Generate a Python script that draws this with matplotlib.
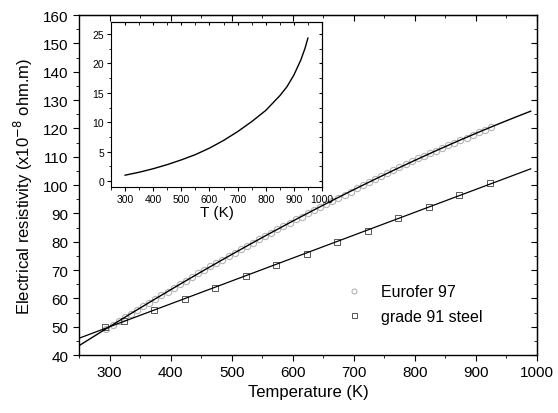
import matplotlib
matplotlib.use("Agg")
import matplotlib.pyplot as plt
import numpy as np
from matplotlib.ticker import MultipleLocator

plt.rcParams['font.family'] = ['Liberation Sans', 'DejaVu Sans']

# Eurofer 97 measured resistivity (x1e-8 ohm.m)
euro_T = [295, 305, 315, 325, 335, 345, 355, 365, 375, 385, 395, 405, 415, 425,
          435, 445, 455, 465, 475, 485, 495, 505, 515, 525, 535, 545, 555, 565,
          575, 585, 595, 605, 615, 625, 635, 645, 655, 665, 675, 685, 695, 705,
          715, 725, 735, 745, 755, 765, 775, 785, 795, 805, 815, 825, 835, 845,
          855, 865, 875, 885, 895, 905, 915, 925]
euro_R = [49.3, 50.7, 52.0, 53.3, 54.6, 55.9, 57.2, 58.5, 59.8, 61.1, 62.4, 63.7,
          65.0, 66.3, 67.6, 68.9, 70.1, 71.3, 72.5, 73.7, 74.9, 76.1, 77.3, 78.5,
          79.7, 80.9, 82.0, 83.2, 84.4, 85.5, 86.7, 87.9, 88.9, 90.0, 91.1, 92.2,
          93.3, 94.4, 95.5, 96.6, 97.7, 98.8, 99.9, 101.0, 102.1, 103.2, 104.3,
          105.4, 106.5, 107.5, 108.5, 109.4, 110.3, 111.2, 112.1, 113.1, 114.0,
          114.9, 115.9, 116.8, 117.7, 118.6, 119.6, 120.5]

# grade 91 steel
g91_T = [293, 323, 373, 423, 473, 523, 573, 623, 673, 723, 773, 823, 873, 923]
g91_R = [49.8, 52.1, 56.0, 59.8, 63.7, 67.8, 71.8, 75.8, 79.9, 83.9, 88.3, 92.4,
         96.4, 100.7]

# inset curve
ins_T = [300, 350, 400, 450, 500, 550, 600, 650, 700, 750, 800, 850, 875, 900,
         925, 940, 950]
ins_R = [1.0, 1.5, 2.1, 2.8, 3.6, 4.5, 5.6, 6.9, 8.4, 10.1, 12.0, 14.5, 16.0,
         18.0, 20.6, 22.6, 24.3]

fig = plt.figure(figsize=(5.58, 4.14), dpi=100)
ax = fig.add_axes([0.1416, 0.140, 0.8204, 0.821])

# fitted lines
Tfit = np.linspace(250, 990, 200)
pe = np.polyfit(euro_T, euro_R, 3)
pg = np.polyfit(g91_T, g91_R, 1)

ax.plot(euro_T, euro_R, 'o', ms=4.5, mfc='none', mec='#b4b4b4', mew=0.8,
        label='Eurofer 97', zorder=2)
ax.plot(g91_T, g91_R, 's', ms=4.5, mfc='none', mec='#555555', mew=0.7,
        label='grade 91 steel', zorder=2)
ax.plot(Tfit, np.polyval(pe, Tfit), color='black', lw=1.0, zorder=3)
ax.plot(Tfit, np.polyval(pg, Tfit), color='black', lw=0.9, zorder=3)

ax.set_xlim(250, 1000)
ax.set_ylim(40, 160)
ax.xaxis.set_major_locator(MultipleLocator(100))
ax.xaxis.set_minor_locator(MultipleLocator(50))
ax.yaxis.set_major_locator(MultipleLocator(10))
ax.yaxis.set_minor_locator(MultipleLocator(5))
ax.tick_params(which='both', direction='out', labelsize=11)
ax.tick_params(which='major', length=4)
ax.tick_params(which='minor', length=2.5)
for s in ax.spines.values():
    s.set_linewidth(1.0)

top = ax.secondary_xaxis('top')
top.xaxis.set_major_locator(MultipleLocator(100))
top.xaxis.set_minor_locator(MultipleLocator(50))
top.tick_params(which='both', direction='in', labeltop=False)
top.tick_params(which='major', length=4)
top.tick_params(which='minor', length=2.5)
right = ax.secondary_yaxis('right')
right.yaxis.set_major_locator(MultipleLocator(10))
right.yaxis.set_minor_locator(MultipleLocator(5))
right.tick_params(which='both', direction='in', labelright=False)
right.tick_params(which='major', length=4)
right.tick_params(which='minor', length=2.5)

ax.set_xlabel('Temperature (K)', fontsize=12, labelpad=3)
ax.set_ylabel('Electrical resistivity (x10$^{-8}$ ohm.m)', fontsize=12,
              labelpad=6)

ax.legend(loc='upper left', bbox_to_anchor=(0.535, 0.25), frameon=False,
          fontsize=11.5, handletextpad=0.7, markerscale=0.8, labelspacing=0.6)

# inset
ins = fig.add_axes([0.199, 0.546, 0.378, 0.398])
ins.plot(ins_T, ins_R, color='black', lw=1.0)
ins.set_xlim(250, 1000)
ins.set_ylim(-1, 27)
ins.xaxis.set_major_locator(MultipleLocator(100))
ins.xaxis.set_minor_locator(MultipleLocator(50))
ins.yaxis.set_major_locator(MultipleLocator(5))
ins.yaxis.set_minor_locator(MultipleLocator(2.5))
ins.tick_params(which='both', direction='out', labelsize=7.5, pad=2)
ins.tick_params(which='major', length=3)
ins.tick_params(which='minor', length=1.8)
itop = ins.secondary_xaxis('top')
itop.xaxis.set_major_locator(MultipleLocator(100))
itop.xaxis.set_minor_locator(MultipleLocator(50))
itop.tick_params(which='both', direction='in', labeltop=False, length=2)
iright = ins.secondary_yaxis('right')
iright.yaxis.set_major_locator(MultipleLocator(5))
iright.yaxis.set_minor_locator(MultipleLocator(2.5))
iright.tick_params(which='both', direction='in', labelright=False, length=2)
ins.set_xlabel('T (K)', fontsize=11, labelpad=1)

plt.savefig('out.png', dpi=100)
